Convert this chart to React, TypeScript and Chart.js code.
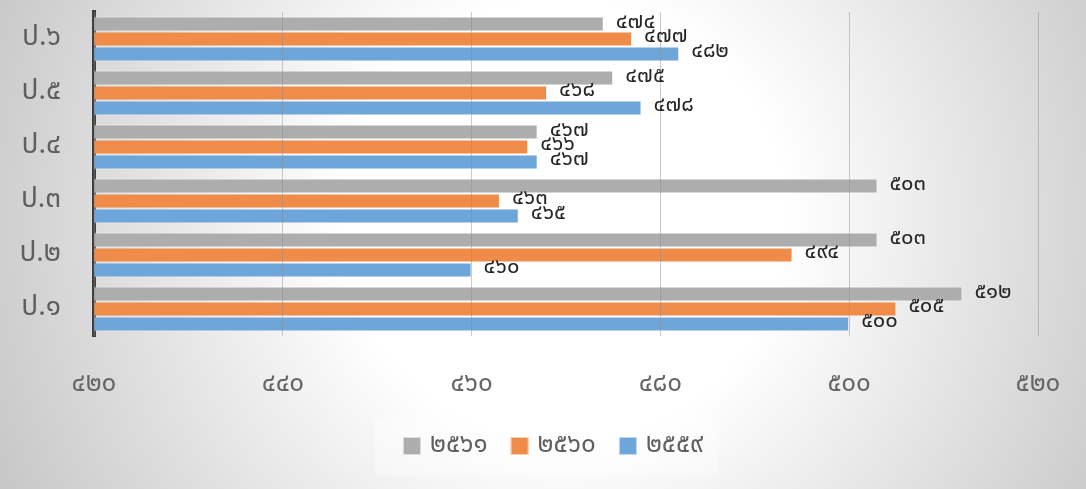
import React, { useEffect, useRef } from "react";
import { Chart, registerables } from "chart.js";

Chart.register(...registerables);

const categories = ["ป.๖", "ป.๕", "ป.๔", "ป.๓", "ป.๒", "ป.๑"];
const seriesNames = ["๒๕๖๑", "๒๕๖๐", "๒๕๕๙"];
const values2561 = [474, 475, 467, 503, 503, 512];
const values2560 = [477, 468, 466, 463, 494, 505];
const values2559 = [482, 478, 467, 465, 460, 500];
const seriesColors = ["#adadad", "#ef8c49", "#6ea6da"];
const axisMin = 420;
const axisMax = 520;
const axisStep = 20;

const FONT = "'Noto Sans Thai', 'Noto Sans', 'DejaVu Sans', sans-serif";
const thaiDigits = "๐๑๒๓๔๕๖๗๘๙";
const toThai = (n: number | string) =>
  String(n).replace(/[0-9]/g, (d) => thaiDigits[Number(d)]);

const bgPlugin = {
  id: "bgPlugin",
  beforeDraw(chart: any) {
    const { ctx, width, height } = chart;
    ctx.save();
    const g = ctx.createRadialGradient(width * 0.52, height * 0.45, 0, width * 0.52, height * 0.45, width * 0.58);
    g.addColorStop(0, "#ffffff");
    g.addColorStop(0.35, "#ffffff");
    g.addColorStop(1, "#c6c6c6");
    ctx.fillStyle = g;
    ctx.fillRect(0, 0, width, height);
    ctx.restore();
  },
};

const labelPlugin = {
  id: "labelPlugin",
  afterDraw(chart: any) {
    const { ctx } = chart;
    ctx.save();
    ctx.font = `22px ${FONT}`;
    ctx.fillStyle = "#262626";
    ctx.textBaseline = "middle";
    ctx.textAlign = "left";
    chart.data.datasets.forEach((ds: any, di: number) => {
      const meta = chart.getDatasetMeta(di);
      meta.data.forEach((bar: any, i: number) => {
        ctx.fillText(toThai(ds.data[i]), bar.x + 12, bar.y - 1);
      });
    });

    // custom legend
    ctx.font = `26px ${FONT}`;
    const box = 18;
    const gapBoxText = 9;
    const gapItems = 23;
    const items = chart.data.datasets.map((ds: any) => ({
      label: ds.label,
      color: ds.backgroundColor,
      w: ctx.measureText(ds.label).width,
    }));
    const total = items.reduce((s: number, it: any) => s + box + gapBoxText + it.w, 0) + gapItems * (items.length - 1);
    const cx = 553;
    const cy = 446;
    ctx.fillStyle = "rgba(255,255,255,0.35)";
    ctx.fillRect(cx - total / 2 - 28, 418, total + 44, 57);
    let x = cx - total / 2;
    items.forEach((it: any) => {
      ctx.fillStyle = it.color;
      ctx.fillRect(x, cy - box / 2, box, box);
      ctx.strokeStyle = "rgba(255,255,255,0.6)";
      ctx.lineWidth = 1;
      ctx.strokeRect(x + 0.5, cy - box / 2 + 0.5, box - 1, box - 1);
      x += box + gapBoxText;
      ctx.fillStyle = "#5f5f5f";
      ctx.fillText(it.label, x, cy + 1);
      x += it.w + gapItems;
    });
    ctx.restore();
  },
};

export default function App() {
  const ref = useRef<HTMLCanvasElement | null>(null);
  useEffect(() => {
    document.body.style.margin = "0";
    const chart = new Chart(ref.current as HTMLCanvasElement, {
      type: "bar",
      data: {
        labels: categories,
        datasets: [values2561, values2560, values2559].map((d, i) => ({
          label: seriesNames[i],
          data: d,
          backgroundColor: seriesColors[i],
          borderColor: "rgba(255,255,255,0.45)",
          borderWidth: 1,
          categoryPercentage: 0.83,
          barPercentage: 1,
        })),
      },
      options: {
        indexAxis: "y",
        animation: false,
        responsive: false,
        layout: { padding: { top: 12, right: 48, bottom: 73, left: 0 } },
        plugins: { legend: { display: false }, tooltip: { enabled: false } },
        scales: {
          x: {
            min: axisMin,
            max: axisMax,
            ticks: {
              stepSize: axisStep,
              padding: 34,
              color: "#666666",
              font: { family: FONT, size: 26 },
              callback: (v: any) => toThai(v),
            },
            grid: { color: "rgba(140,140,140,0.45)", drawTicks: false, z: 1 },
            border: { display: false },
            afterFit: (s: any) => {
              s.height = 80;
              s.paddingLeft = 0;
              s.paddingRight = 0;
            },
          },
          y: {
            ticks: {
              padding: 25,
              color: "#5f5f5f",
              font: { family: FONT, size: 28 },
            },
            grid: { display: false },
            border: { display: true, color: "#404040", width: 4 },
            afterFit: (s: any) => {
              s.width = 94;
              s.paddingTop = 0;
              s.paddingBottom = 0;
            },
          },
        },
      },
      plugins: [bgPlugin, labelPlugin],
    });
    return () => chart.destroy();
  }, []);
  return <canvas ref={ref} width={1086} height={489} style={{ display: "block" }} />;
}
